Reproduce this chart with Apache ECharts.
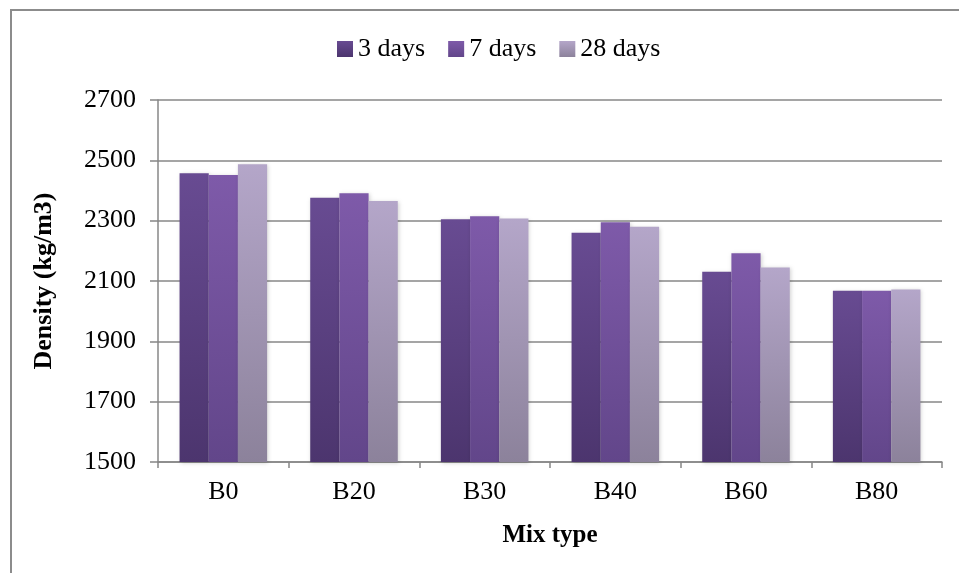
<!DOCTYPE html>
<html>
<head>
<meta charset="utf-8">
<script src="https://cdn.jsdelivr.net/npm/echarts@6/dist/echarts.min.js"></script>
<style>
html,body{margin:0;padding:0;background:#fff;}
#chart{width:959px;height:573px;}
</style>
</head>
<body>
<div id="chart"></div>
<script>
const categories = ['B0', 'B20', 'B30', 'B40', 'B60', 'B80'];
const seriesNames = ['3 days', '7 days', '28 days'];
const days3 = [2457, 2376, 2305, 2260, 2131, 2068];
const days7 = [2451, 2391, 2315, 2295, 2192, 2068];
const days28 = [2487, 2365, 2307, 2280, 2145, 2072];
const yTicks = [1500, 1700, 1900, 2100, 2300, 2500, 2700];

const colorStops = [
  ['#684b92', '#4c356e'],
  ['#7e5aa9', '#62468a'],
  ['#b4a6c9', '#8c829b']
];
const FONT = '"Liberation Serif", "Times New Roman", serif';

function grad(c) {
  return new echarts.graphic.LinearGradient(0, 0, 0, 1, [
    {offset: 0, color: c[0]}, {offset: 1, color: c[1]}
  ]);
}
const values = [days3, days7, days28];

const chart = echarts.init(document.getElementById('chart'), null, {renderer: 'canvas'});
chart.setOption({
  animation: false,
  backgroundColor: '#fff',
  graphic: [{
    type: 'rect',
    shape: {x: 11, y: 10, width: 1000, height: 700},
    style: {fill: 'none', stroke: '#8c8c8c', lineWidth: 2},
    silent: true, z: -1
  }],
  legend: {
    top: 31,
    left: 332,
    itemWidth: 16,
    itemHeight: 16,
    itemGap: 23,
    icon: 'rect',
    textStyle: {fontFamily: FONT, fontSize: 26, color: '#000', padding: [0, 0, 0, 0]},
    data: seriesNames
  },
  grid: {left: 158, right: 17, top: 100, bottom: 111, containLabel: false},
  xAxis: {
    type: 'category',
    data: categories,
    name: 'Mix type',
    nameLocation: 'middle',
    nameGap: 61,
    nameTextStyle: {fontFamily: FONT, fontSize: 25, fontWeight: 'bold', color: '#000'},
    axisLine: {lineStyle: {color: '#878787', width: 1.5}},
    axisTick: {show: true, length: 6, lineStyle: {color: '#878787', width: 1.5}},
    axisLabel: {fontFamily: FONT, fontSize: 26, color: '#000', margin: 17}
  },
  yAxis: {
    type: 'value',
    min: yTicks[0],
    max: yTicks[yTicks.length - 1],
    interval: 200,
    name: 'Density (kg/m3)',
    nameLocation: 'middle',
    nameGap: 101,
    nameTextStyle: {fontFamily: FONT, fontSize: 26, fontWeight: 'bold', color: '#000'},
    axisLine: {show: true, lineStyle: {color: '#878787', width: 1.5}},
    axisTick: {show: true, length: 8, lineStyle: {color: '#878787', width: 1.5}},
    axisLabel: {fontFamily: FONT, fontSize: 26, color: '#000', margin: 22, formatter: v => String(v)},
    splitLine: {show: true, lineStyle: {color: '#878787', width: 1.5}}
  },
  series: seriesNames.map((n, i) => ({
    name: n,
    type: 'bar',
    data: values[i],
    barGap: '0%',
    barCategoryGap: '33%',
    itemStyle: {
      color: grad(colorStops[i]),
      shadowColor: 'rgba(0,0,0,0.18)',
      shadowBlur: 4,
      shadowOffsetX: 1,
      shadowOffsetY: 1
    }
  }))
});
</script>
</body>
</html>
